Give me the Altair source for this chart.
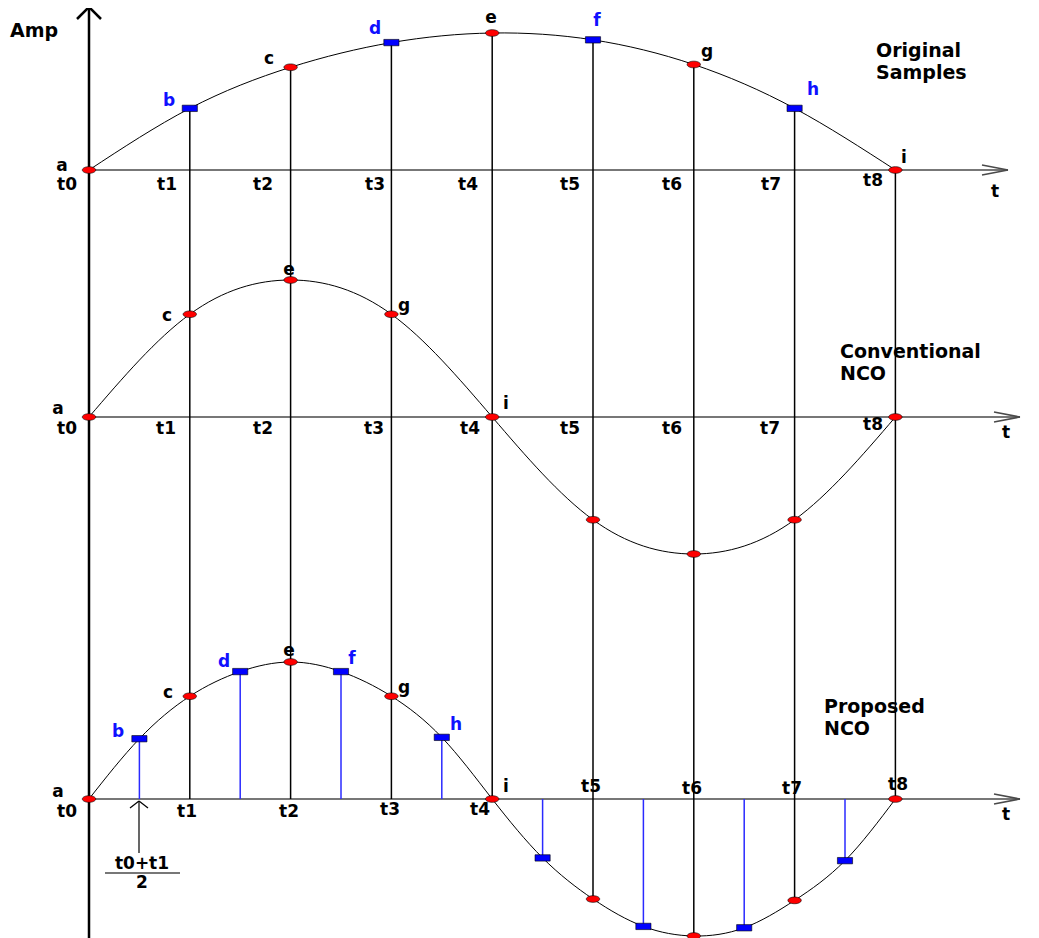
import altair as alt
import pandas as pd

# ---------------- data (amplitudes) ----------------
sample_index = [0, 1, 2, 3, 4, 5, 6, 7, 8]
sample_names = ["a", "b", "c", "d", "e", "f", "g", "h", "i"]
sample_kind = ["red", "blue", "red", "blue", "red", "blue", "red", "blue", "red"]
original_amp = [0.0, 0.45, 0.75, 0.93, 1.0, 0.95, 0.77, 0.45, 0.0]

conventional_amp = [0.0, 0.75, 1.0, 0.75, 0.0, -0.75, -1.0, -0.75, 0.0]

proposed_t = [0, 0.5, 1, 1.5, 2, 2.5, 3, 3.5, 4, 4.5, 5, 5.5, 6, 6.5, 7, 7.5, 8]
proposed_amp = [0.0, 0.44, 0.75, 0.93, 1.0, 0.93, 0.75, 0.45, 0.0,
                -0.43, -0.73, -0.93, -1.0, -0.94, -0.74, -0.45, 0.0]
proposed_kind = ["red" if float(t).is_integer() else "blue" for t in proposed_t]

tick_labels = ["t0", "t1", "t2", "t3", "t4", "t5", "t6", "t7", "t8"]

# ---------------- layout ----------------
W, H = 1023, 930
T0_PX, STEP = 89.0, 100.8       # page x of t0 and spacing of samples
Y0_PX, UNIT = 170.0, 137.0      # page y of top baseline, pixels per amplitude unit


def tx(px):
    return (px - T0_PX) / STEP


def vy(py):
    return (Y0_PX - py) / UNIT


OFF_TOP = 0.0
OFF_MID = vy(417)
OFF_BOT = vy(799)

xs = alt.Scale(domain=[tx(8), tx(8 + W)], nice=False, zero=False)
ys = alt.Scale(domain=[vy(8 + H), vy(8)], nice=False, zero=False)

# ---------------- tables ----------------
rows = []
for t, a, k in zip(sample_index, original_amp, sample_kind):
    rows.append(dict(panel="top", t=t, v=a + OFF_TOP, kind=k))
for t, a in zip(sample_index, conventional_amp):
    rows.append(dict(panel="mid", t=t, v=a + OFF_MID, kind="red"))
for t, a, k in zip(proposed_t, proposed_amp, proposed_kind):
    rows.append(dict(panel="bot", t=t, v=a + OFF_BOT, kind=k))
pts = pd.DataFrame(rows)

# black verticals from the original sample down to the proposed NCO
vert = []
for i, t in enumerate(sample_index[1:], start=1):
    pa = proposed_amp[2 * i]
    vert.append(dict(t=t, v1=original_amp[i] + OFF_TOP, v2=min(0.0, pa) + OFF_BOT))
vert = pd.DataFrame(vert)

# blue stems at half steps
stems = pd.DataFrame([dict(t=t, v1=OFF_BOT, v2=a + OFF_BOT)
                      for t, a, k in zip(proposed_t, proposed_amp, proposed_kind) if k == "blue"])


# decorations (axes and arrows) given in page pixels
def seg(x1, y1, x2, y2):
    return dict(x1=tx(x1), y1=vy(y1), x2=tx(x2), y2=vy(y2))


axes_h = pd.DataFrame([
    seg(89, 170, 1008, 170), seg(982, 165, 1008, 170), seg(982, 175, 1008, 170),
    seg(89, 417, 1020, 417), seg(994, 412, 1020, 417), seg(994, 422, 1020, 417),
    seg(89, 799, 1020, 799), seg(994, 794, 1020, 799), seg(994, 804, 1020, 799),
    seg(105, 873, 180, 873),
])
yaxis = pd.DataFrame([
    seg(89, 7, 89, 945), seg(77, 19, 89, 7), seg(101, 19, 89, 7),
])
small_arrow = pd.DataFrame([
    seg(139, 853, 139, 801), seg(130, 808, 139, 801), seg(148, 808, 139, 801),
])

# text labels: (text, page x, page y, colour)
BLUE = "#1010ff"
letter_rows = [
    ("a", 62, 166, "black"), ("b", 169, 101, BLUE), ("c", 269, 59, "black"),
    ("d", 375, 29, BLUE), ("e", 491, 18, "black"), ("f", 597, 21, BLUE),
    ("g", 707, 52, "black"), ("h", 813, 90, BLUE), ("i", 904, 158, "black"),
    ("a", 58, 409, "black"), ("c", 167, 316, "black"), ("e", 289, 270, "black"),
    ("g", 404, 306, "black"), ("i", 506, 404, "black"),
    ("a", 58, 792, "black"), ("b", 118, 732, BLUE), ("c", 168, 693, "black"),
    ("d", 224, 662, BLUE), ("e", 289, 651, "black"), ("f", 352, 659, BLUE),
    ("g", 404, 688, "black"), ("h", 456, 725, BLUE), ("i", 506, 787, "black"),
]
top_tick_px = [67, 167, 263, 375, 468, 570, 672, 771, 873]
top_tick_py = [185, 185, 185, 185, 185, 185, 185, 185, 181]
mid_tick_px = [67, 166, 263, 374, 470, 570, 672, 770, 873]
mid_tick_py = [429, 429, 429, 429, 429, 429, 429, 429, 425]
bot_tick_px = [67, 187, 289, 390, 480, 591, 692, 792, 898]
bot_tick_py = [812, 812, 812, 810, 810, 787, 789, 789, 785]
for lab, x, y in zip(tick_labels, top_tick_px, top_tick_py):
    letter_rows.append((lab, x, y, "black"))
for lab, x, y in zip(tick_labels, mid_tick_px, mid_tick_py):
    letter_rows.append((lab, x, y, "black"))
for lab, x, y in zip(tick_labels, bot_tick_px, bot_tick_py):
    letter_rows.append((lab, x, y, "black"))
letter_rows += [("t", 995, 192, "black"), ("t", 1006, 433, "black"), ("t", 1006, 815, "black"),
                ("t0+t1", 142, 864, "black"), ("2", 142, 883, "black")]
labels = pd.DataFrame([dict(text=s, x=tx(x), y=vy(y), color=c) for s, x, y, c in letter_rows])

title_rows = [
    ("Amp", 10, 31, 20), ("Original", 876, 51, 20), ("Samples", 876, 73, 20),
    ("Conventional", 840, 352, 20), ("NCO", 840, 374, 20),
    ("Proposed", 824, 707, 20), ("NCO", 824, 729, 20),
]
titles = pd.DataFrame([dict(text=s, x=tx(x), y=vy(y)) for s, x, y, _ in title_rows])

# ---------------- marks ----------------
X = lambda f: alt.X(f, type="quantitative", scale=xs, axis=None)
Y = lambda f: alt.Y(f, type="quantitative", scale=ys, axis=None)


def rules(df, color, width):
    return alt.Chart(df).mark_rule(color=color, strokeWidth=width).encode(
        x=X("x1"), y=Y("y1"), x2="x2", y2="y2")


axes_layer = rules(axes_h, "#4a4a4a", 1.5)
yaxis_layer = rules(yaxis, "black", 2.5)
arrow_layer = rules(small_arrow, "black", 1.2)

vert_layer = alt.Chart(vert).mark_rule(color="black", strokeWidth=1.5).encode(
    x=X("t"), y=Y("v1"), y2="v2")
stem_layer = alt.Chart(stems).mark_rule(color="#2a2aff", strokeWidth=1.5).encode(
    x=X("t"), y=Y("v1"), y2="v2")

curve_layer = alt.Chart(pts).mark_line(interpolate="natural", color="black", strokeWidth=1).encode(
    x=X("t"), y=Y("v"), detail="panel:N", order="t:Q")

ELLIPSE = "M -1 0 A 1 0.5 0 1 0 1 0 A 1 0.5 0 1 0 -1 0 Z"
RECT = "M -1 -0.42 L 1 -0.42 L 1 0.42 L -1 0.42 Z"

red_layer = alt.Chart(pts).transform_filter(alt.datum.kind == "red").mark_point(
    shape=ELLIPSE, filled=True, fill="#ff0000", stroke="black", strokeWidth=0.6,
    size=180, opacity=1).encode(x=X("t"), y=Y("v"))
blue_layer = alt.Chart(pts).transform_filter(alt.datum.kind == "blue").mark_point(
    shape=RECT, filled=True, fill="#0000ff", stroke="black", strokeWidth=0.6,
    size=230, opacity=1).encode(x=X("t"), y=Y("v"))

label_layer = alt.Chart(labels).mark_text(
    font="DejaVu Sans", fontWeight="bold", fontSize=17, align="center", baseline="middle").encode(
    x=X("x"), y=Y("y"), text="text:N",
    color=alt.Color("color:N", scale=None))

title_layer = alt.Chart(titles).mark_text(
    font="DejaVu Sans", fontWeight="bold", fontSize=19, align="left", baseline="middle",
    color="black").encode(x=X("x"), y=Y("y"), text="text:N")

chart = alt.layer(
    axes_layer, vert_layer, stem_layer, yaxis_layer, arrow_layer,
    curve_layer, red_layer, blue_layer, label_layer, title_layer,
).properties(
    width=W, height=H, padding=0, autosize=alt.AutoSizeParams(type="none"),
    background="white",
).configure_view(stroke=None)

chart.save("out.html", embed_options={"renderer": "svg", "actions": False})
